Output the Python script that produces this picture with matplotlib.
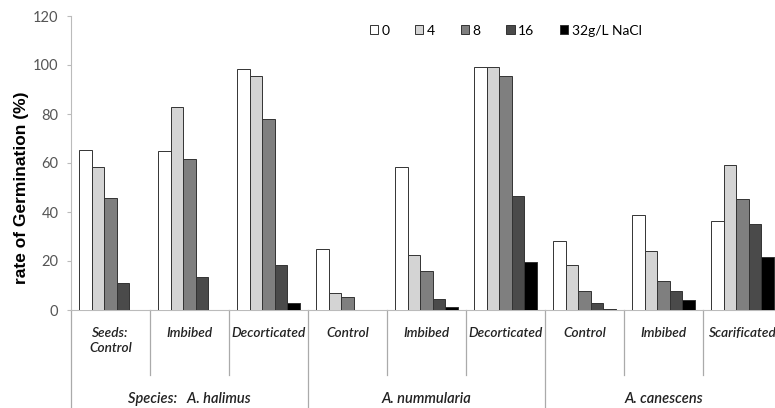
import matplotlib
matplotlib.use("Agg")
import matplotlib.pyplot as plt
from matplotlib.transforms import blended_transform_factory
import numpy as np

subgroups = ["Seeds:\nControl", "Imbibed", "Decorticated",
             "Control", "Imbibed", "Decorticated",
             "Control", "Imbibed", "Scarificated"]
species = ["Species:   A. halimus", "A. nummularia", "A. canescens"]
series_labels = ["0", "4", "8", "16", "32g/L NaCl"]
v0 = [65.2, 64.8, 98.2, 25.0, 58.4, 99.1, 28.2, 38.7, 36.4]
v4 = [58.4, 82.8, 95.7, 6.8, 22.4, 99.1, 18.3, 24.2, 59.1]
v8 = [45.9, 61.5, 78.1, 5.4, 16.0, 95.7, 7.9, 11.9, 45.2]
v16 = [10.9, 13.3, 18.3, 0.0, 4.6, 46.6, 2.7, 7.9, 35.3]
v32 = [0.0, 0.0, 3.0, 0.0, 1.3, 19.7, 0.4, 4.1, 21.5]
yticks = [0, 20, 40, 60, 80, 100, 120]

series = [v0, v4, v8, v16, v32]
colors = ["#ffffff", "#d4d4d4", "#7f7f7f", "#4a4a4a", "#000000"]

plt.rcParams['font.family'] = ['Lato', 'DejaVu Sans']

fig = plt.figure(figsize=(7.75, 4.08), dpi=100)
W, H = 775, 408
x0, x1 = 71, 775
ytop, ybot = 16, 310
ax = fig.add_axes([x0 / W, 1 - ybot / H, (x1 - x0) / W, (ybot - ytop) / H])

gw = 79.0
xmax = (x1 - x0) / gw - 0.5
x = np.arange(len(subgroups))
bw = 0.16
for i, (vals, c, lab) in enumerate(zip(series, colors, series_labels)):
    ax.bar(x + (i - 2) * bw, vals, width=bw, color=c, edgecolor="#333333",
           linewidth=0.7, label=lab, zorder=3)

ax.set_xlim(-0.5, xmax)
ax.set_ylim(0, 120)
ax.set_yticks(yticks)
ax.set_yticklabels([str(t) for t in yticks], color="#555555", fontsize=10.5)
ax.tick_params(axis='y', length=3, color="#bbbbbb", pad=6)
ax.set_xticks([])
for s in ["top", "right"]:
    ax.spines[s].set_visible(False)
ax.spines["left"].set_color("#bbbbbb")
ax.spines["bottom"].set_color("#bbbbbb")

tr = blended_transform_factory(ax.transData, ax.transAxes)
ah = ybot - ytop
def ay(py):
    return (ybot - py) / ah

fig.text(22 / W, 1 - 188 / H, "rate of Germination (%)", rotation=90,
         ha="center", va="center", fontsize=12.5, fontweight="bold",
         family=['Liberation Sans', 'DejaVu Sans'])

# separators
for k in range(len(subgroups) + 1):
    xs = k - 0.5
    if xs > xmax:
        continue
    full = (k % 3 == 0)
    yend = ay(408) if full else ay(375)
    ax.plot([xs, xs], [0, yend], transform=tr, color="#aaaaaa", lw=0.9,
            clip_on=False)

for k, lab in enumerate(subgroups):
    ax.text(k, ay(327), lab, transform=tr, ha="center", va="top",
            fontsize=9.8, style="italic", fontweight="semibold",
            color="#222222", linespacing=1.35)

for k, lab in enumerate(species):
    ax.text(3 * k + 1, ay(399), lab, transform=tr, ha="center", va="center",
            fontsize=10.5, style="italic", fontweight="semibold",
            color="#222222")

leg = ax.legend(loc="upper left", bbox_to_anchor=((364 - x0) / (x1 - x0), ay(19)),
                ncol=5, frameon=False, fontsize=10, handlelength=0.6,
                handleheight=0.6, handletextpad=0.25, columnspacing=1.85,
                borderaxespad=0)

fig.savefig("out.png", dpi=100)
